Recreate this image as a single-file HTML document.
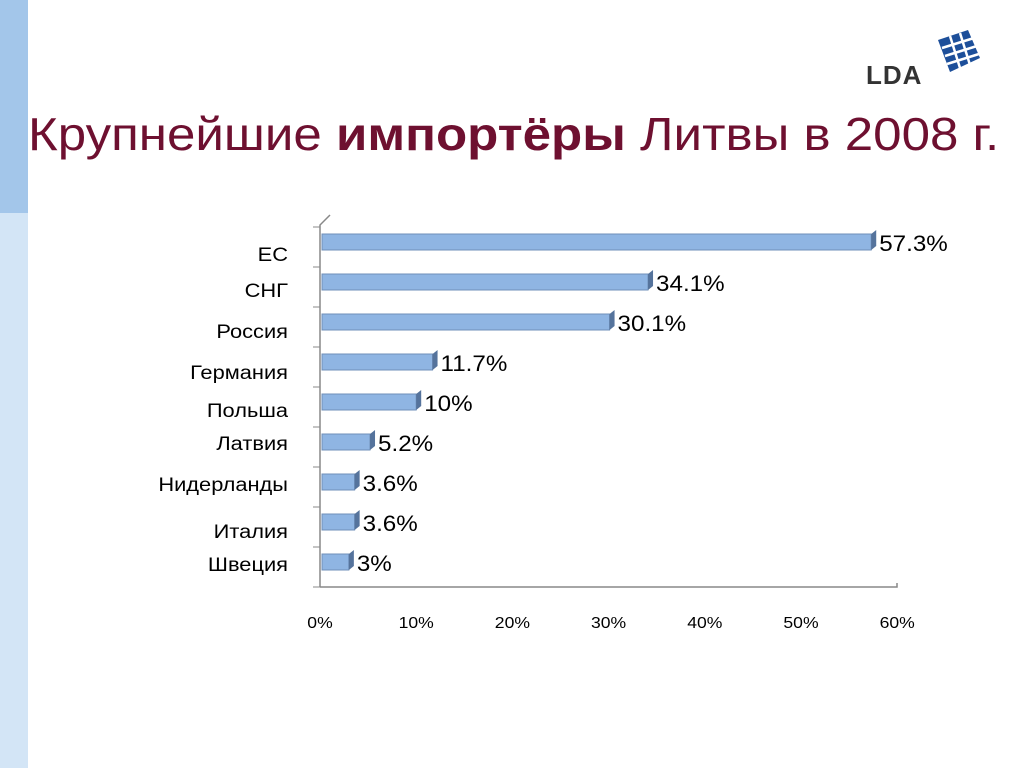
<!DOCTYPE html>
<html><head><meta charset="utf-8"><style>
body{margin:0;width:1024px;height:768px;background:#fff;position:relative;overflow:hidden;font-family:"Liberation Sans",sans-serif}
.t{position:absolute;white-space:nowrap}
</style></head><body>
<div style="position:absolute;left:0;top:0;width:28px;height:768px;background:#d3e5f6"></div>
<div style="position:absolute;left:0;top:0;width:28px;height:213px;background:#a3c6ea"></div>
<div class="t" style="left:866px;top:60px;font-size:26px;font-weight:bold;color:#333;letter-spacing:1px">LDA</div>
<svg style="position:absolute;left:928px;top:28px" width="60" height="55" viewBox="0 0 60 55">
<g fill="#1d4f9a"><polygon points="10,12 40,2 52,30 22,44"/></g>
<g stroke="#fff" stroke-width="2.5" fill="none"><path d="M14,20 L46,10"/><path d="M17,28 L49,18"/><path d="M19,36 L51,26"/><path d="M22,8 L32,40"/><path d="M32,5 L42,37"/></g>
</svg>
<div class="t" style="left:28px;top:107px;font-size:46px;color:#6e1030;transform:scaleX(1.11);transform-origin:0 0">Крупнейшие <b>импортёры</b> Литвы в 2008 г.</div>
<svg id="chart" width="1024" height="768" style="position:absolute;left:0;top:0"></svg>
<script>
const categories=["ЕС","СНГ","Россия","Германия","Польша","Латвия","Нидерланды","Италия","Швеция"];
const values=[57.3,34.1,30.1,11.7,10,5.2,3.6,3.6,3];
const valueLabels=["57.3%","34.1%","30.1%","11.7%","10%","5.2%","3.6%","3.6%","3%"];
const ticks=[0,10,20,30,40,50,60];
const labelY=[255,291,332,373,411,444,485,532,565];
const svg=document.getElementById('chart');
const NS='http://www.w3.org/2000/svg';
const x=v=>320+v*9.62;
const y=i=>233+i*40;
function mk(t,a){const e=document.createElementNS(NS,t);for(const k in a)e.setAttribute(k,a[k]);svg.appendChild(e);return e;}
let e;
e=mk('path',{d:'M320,587 L320,225 L330,215 M320,587 L897,587 L897,583',stroke:'#888',fill:'none','stroke-width':1.5});


for(let i=0;i<=categories.length;i++){e=mk('line',{x1:313,x2:320,y1:227+i*40,y2:227+i*40,stroke:'#888'});

}
ticks.forEach(t=>{e=mk('text',{x:0,y:0,transform:`translate(${x(t)},628) scale(1.1,1)`,'text-anchor':'middle','font-size':16,fill:'#000'});e.textContent=t+'%';

});
values.forEach((v,i)=>{
const x1=x(v),yy=y(i);
e=mk('rect',{x:322,y:yy+1,width:x1-322,height:16,fill:'#8fb5e3',stroke:'#6f8fb8','stroke-width':1});


e=mk('polygon',{points:`${x1},${yy+1} ${x1+5},${yy-3} ${x1+5},${yy+13} ${x1},${yy+17}`,fill:'#55739c'});


e=mk('text',{x:0,y:0,transform:`translate(${x1+8},${yy+18}) scale(1.1,1)`,'font-size':22,fill:'#000'});e.textContent=valueLabels[i];


e=mk('text',{x:0,y:0,transform:`translate(288,${labelY[i]+6}) scale(1.15,1)`,'text-anchor':'end','font-size':19,fill:'#000'});e.textContent=categories[i];


});
</script>
</body></html>
